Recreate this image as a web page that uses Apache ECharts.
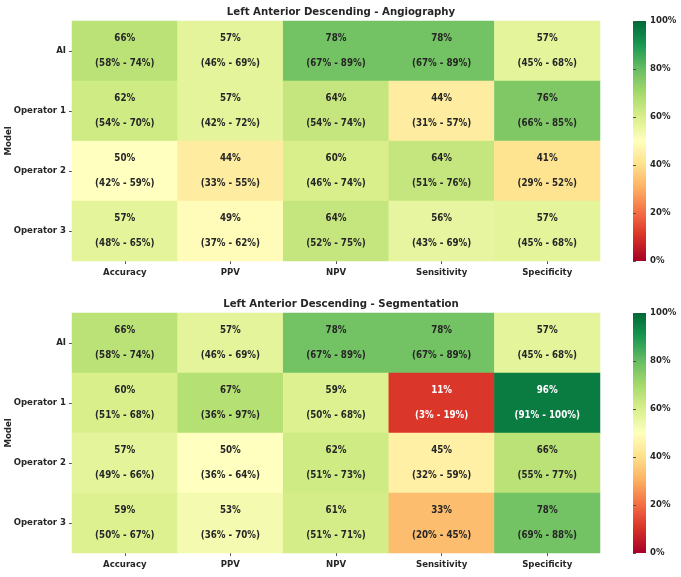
<!DOCTYPE html>
<html>
<head>
<meta charset="utf-8">
<script src="https://cdn.jsdelivr.net/npm/echarts@6/dist/echarts.min.js"></script>
<style>
  html, body { margin: 0; padding: 0; background: #fff; }
  #chart { width: 681px; height: 577px; }
</style>
</head>
<body>
<div id="chart"></div>
<script>
const metrics = ["Accuracy", "PPV", "NPV", "Sensitivity", "Specificity"];
const models = ["AI", "Operator 1", "Operator 2", "Operator 3"];
const colorbarTicks = [0, 20, 40, 60, 80, 100];

// Angiography: value, lower and upper CI per model (rows) and metric (cols)
const angioValues = [[66, 57, 78, 78, 57], [62, 57, 64, 44, 76], [50, 44, 60, 64, 41], [57, 49, 64, 56, 57]];
const angioLow = [[58, 46, 67, 67, 45], [54, 42, 54, 31, 66], [42, 33, 46, 51, 29], [48, 37, 52, 43, 45]];
const angioHigh = [[74, 69, 89, 89, 68], [70, 72, 74, 57, 85], [59, 55, 74, 76, 52], [65, 62, 75, 69, 68]];

// Segmentation
const segValues = [[66, 57, 78, 78, 57], [60, 67, 59, 11, 96], [57, 50, 62, 45, 66], [59, 53, 61, 33, 78]];
const segLow = [[58, 46, 67, 67, 45], [51, 36, 50, 3, 91], [49, 36, 51, 32, 55], [50, 36, 51, 20, 69]];
const segHigh = [[74, 69, 89, 89, 68], [68, 97, 68, 19, 100], [66, 64, 73, 59, 77], [67, 70, 71, 45, 88]];

const rdylgn = ["#a50026", "#d73027", "#f46d43", "#fdae61", "#fee08b", "#ffffbf",
    "#d9ef8b", "#a6d96a", "#66bd63", "#1a9850", "#006837"];

const FONT = "'DejaVu Sans Condensed', 'DejaVu Sans'";
const TXT = "#262626";

const myChart = echarts.init(document.getElementById("chart"));

const buildData = (vals, lo, hi) => {
    const out = [];
    for (let r = 0; r < models.length; r++) {
        for (let c = 0; c < metrics.length; c++) {
            const v = vals[r][c];
            const light = v < 20 || v > 90;
            out.push({
                value: [c, r, v, lo[r][c], hi[r][c]],
                label: {color: light ? "#fff" : TXT}
            });
        }
    }
    return out;
};

const panels = [
    {title: "Left Anterior Descending - Angiography", top: 21, data: buildData(angioValues, angioLow, angioHigh)},
    {title: "Left Anterior Descending - Segmentation", top: 313, data: buildData(segValues, segLow, segHigh)}
];
const H = 240;

// colorbar gradient (bottom = 0%, top = 100%)
const gradientStops = rdylgn.map((c, k) => ({offset: k / (rdylgn.length - 1), color: c}));

const grids = [], xAxes = [], yAxes = [], series = [], visualMaps = [], titles = [], bars = [];
panels.forEach((p, i) => {
    titles.push({
        text: p.title,
        left: 336,
        top: p.top - 19,
        textAlign: "center",
        textStyle: {fontFamily: FONT, fontWeight: "bold", fontSize: 11.3, color: TXT}
    });
    grids.push({left: 72, top: p.top, width: 528, height: H, outerBoundsMode: "none"});
    xAxes.push({
        type: "category",
        gridIndex: i,
        data: metrics,
        axisLine: {show: false},
        axisTick: {show: true, alignWithLabel: true, length: 3, lineStyle: {color: "#555"}},
        axisLabel: {fontFamily: FONT, fontWeight: "bold", fontSize: 9.5, color: TXT, margin: 7},
        splitLine: {show: false}
    });
    yAxes.push({
        type: "category",
        gridIndex: i,
        data: models,
        inverse: true,
        name: "Model",
        nameLocation: "middle",
        nameRotate: 90,
        nameGap: 58,
        nameMoveOverlap: false,
        nameTextStyle: {fontFamily: FONT, fontWeight: "bold", fontSize: 9.5, color: TXT},
        axisLine: {show: false},
        axisTick: {show: true, alignWithLabel: true, length: 3, lineStyle: {color: "#555"}},
        axisLabel: {fontFamily: FONT, fontWeight: "bold", fontSize: 9.5, color: TXT, margin: 6},
        splitLine: {show: false}
    });
    series.push({
        type: "heatmap",
        xAxisIndex: i,
        yAxisIndex: i,
        data: p.data,
        label: {
            show: true,
            fontFamily: FONT,
            fontWeight: "bold",
            fontSize: 9.7,
            lineHeight: 25,
            formatter: (d) => d.value[2] + "%\n(" + d.value[3] + "% - " + d.value[4] + "%)"
        },
        emphasis: {disabled: true}
    });
    visualMaps.push({
        type: "continuous",
        show: false,
        seriesIndex: i,
        dimension: 2,
        min: 0,
        max: 100,
        inRange: {color: rdylgn}
    });
    bars.push({
        type: "rect",
        silent: true,
        shape: {x: 633, y: p.top, width: 13, height: H},
        style: {fill: new echarts.graphic.LinearGradient(0, 1, 0, 0, gradientStops)}
    });
});

// colorbar tick axes
panels.forEach((p, i) => {
    grids.push({left: 633, top: p.top, width: 13, height: H, outerBoundsMode: "none"});
    xAxes.push({type: "value", gridIndex: 2 + i, show: false, min: 0, max: 1});
    yAxes.push({
        type: "value",
        gridIndex: 2 + i,
        position: "right",
        min: colorbarTicks[0],
        max: colorbarTicks[colorbarTicks.length - 1],
        interval: 20,
        axisLine: {show: false},
        axisTick: {show: true, length: 3, lineStyle: {color: "#555"}},
        axisLabel: {fontFamily: FONT, fontWeight: "bold", fontSize: 9.5, color: TXT, margin: 4, formatter: "{value}%"},
        splitLine: {show: false}
    });
});

const option = {
    animation: false,
    backgroundColor: "#fff",
    title: titles,
    grid: grids,
    xAxis: xAxes,
    yAxis: yAxes,
    visualMap: visualMaps,
    graphic: bars,
    series: series
};

option && myChart.setOption(option);
</script>
</body>
</html>
